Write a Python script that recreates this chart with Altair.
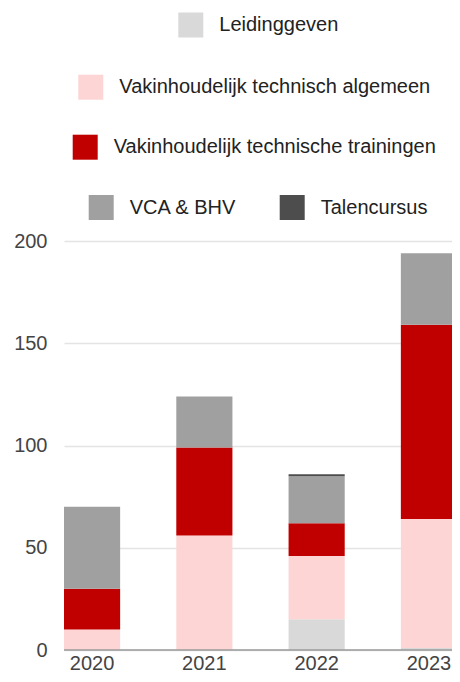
import altair as alt
import pandas as pd

# ---- data ----
years = ["2020", "2021", "2022", "2023"]
categories = [
    "Leidinggeven",
    "Vakinhoudelijk technisch algemeen",
    "Vakinhoudelijk technische trainingen",
    "VCA & BHV",
    "Talencursus",
]
colors = ["#d9d9d9", "#fdd5d5", "#c00000", "#a0a0a0", "#4d4d4d"]

leidinggeven = [0, 0, 15, 1]
technisch_algemeen = [10, 56, 31, 63]
technische_trainingen = [20, 43, 16, 95]
vca_bhv = [40, 25, 23, 35]
talencursus = [0, 0, 1, 0]

y_ticks = [0, 50, 100, 150, 200]

series = [leidinggeven, technisch_algemeen, technische_trainingen, vca_bhv, talencursus]
rows = []
for ci, (cat, vals) in enumerate(zip(categories, series)):
    for yr, v in zip(years, vals):
        rows.append({"Jaar": yr, "Categorie": cat, "Aantal": v, "volgorde": ci})
df = pd.DataFrame(rows)

FONT = "Liberation Sans"

bars = alt.Chart(df).mark_bar().encode(
    x=alt.X(
        "Jaar:N",
        sort=years,
        scale=alt.Scale(range=[0, 393], paddingInner=0.5, paddingOuter=0),
        axis=alt.Axis(
            title=None, labelAngle=0, ticks=False, domain=False, grid=False,
            labelPadding=3, labelFontSize=20, labelFont=FONT, labelColor="#444",
        ),
    ),
    y=alt.Y(
        "Aantal:Q",
        stack="zero",
        scale=alt.Scale(domain=[0, 200], nice=False),
        axis=alt.Axis(
            title=None, values=y_ticks, ticks=False, domain=False,
            labelPadding=17, labelFontSize=20, labelFont=FONT, labelColor="#444",
            gridColor="#e4e4e4", gridWidth=1.5,
        ),
    ),
    color=alt.Color(
        "Categorie:N",
        scale=alt.Scale(domain=categories, range=colors),
        legend=None,
    ),
    order=alt.Order("volgorde:Q", sort="ascending"),
)

baseline = alt.Chart(pd.DataFrame({"v": [0]})).mark_rule(
    color="#9a9a9a", strokeWidth=1.5
).encode(y="v:Q")

# legend rows (Google-Charts style, centred rows)
legend_rows = [[0], [1], [2], [3, 4]]
legend_x = [114.3, 14.3, 8.7, 24.7]
legend_y = [-228.5, -166.3, -106.3, -46]

legend_layers = []
for idxs, lx, ly in zip(legend_rows, legend_x, legend_y):
    cats = [categories[i] for i in idxs]
    cols = [colors[i] for i in idxs]
    ldf = pd.DataFrame({"Categorie": cats})
    layer = alt.Chart(ldf).mark_square(opacity=0).encode(
        color=alt.Color(
            "Categorie:N",
            scale=alt.Scale(domain=cats, range=cols),
            legend=alt.Legend(
                title=None, orient="none", legendX=lx, legendY=ly,
                direction="horizontal", columns=len(cats),
                symbolType="square", symbolSize=625, symbolStrokeWidth=0,
                symbolOpacity=1, labelFontSize=20, labelFont=FONT,
                labelColor="#222", labelOffset=16, labelLimit=0,
                columnPadding=43, padding=0,
            ),
        )
    )
    legend_layers.append(layer)

chart = alt.layer(bars, baseline, *legend_layers).resolve_scale(
    color="independent"
).properties(
    width=388,
    height=409,
    autosize=alt.AutoSizeParams(type="none"),
    padding={"left": 56, "top": 233, "right": 0, "bottom": 24},
    background="white",
).configure_view(stroke=None)

chart.save("out.html", embed_options={"renderer": "svg", "actions": False})
